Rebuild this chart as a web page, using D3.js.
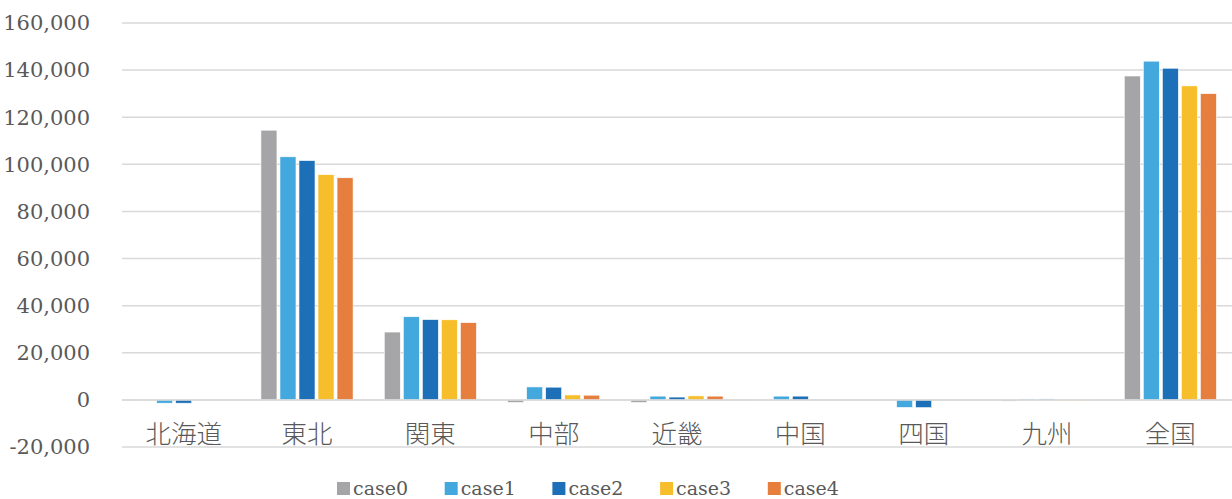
<!DOCTYPE html>
<html>
<head>
<meta charset="utf-8">
<script src="https://cdn.jsdelivr.net/npm/d3@7"></script>
<style>
  body { margin: 0; background: #fff; }
  svg text { fill: #595959; }
  .serif { font-family: "DejaVu Serif", serif; }
</style>
</head>
<body>
<div id="chart"></div>
<script>
// regions on the x axis
var regions = ["北海道", "東北", "関東", "中部", "近畿", "中国", "四国", "九州", "全国"];
var seriesNames = ["case0", "case1", "case2", "case3", "case4"];
var seriesColors = ["#a5a5a7", "#42a8dd", "#1d6fb8", "#f7be2b", "#e67e3e"];

// values per series, same order as regions
var case0 = [-400, 114500, 28800, -1100, -1100, -300, 0, -500, 137500];
var case1 = [-1400, 103200, 35300, 5500, 1600, 1600, -3200, 400, 143800];
var case2 = [-1400, 101600, 34100, 5400, 1200, 1600, -3300, 400, 140800];
var case3 = [0, 95600, 34000, 2100, 1700, 0, 0, -400, 133300];
var case4 = [0, 94300, 32800, 2000, 1600, 0, 0, -400, 130000];
var allSeries = [case0, case1, case2, case3, case4];

var yTicks = [-20000, 0, 20000, 40000, 60000, 80000, 100000, 120000, 140000, 160000];

var width = 1232, height = 499;
var plotLeft = 122, plotRight = 1232, plotTop = 23, plotBottom = 447;

var svg = d3.select("#chart").append("svg")
  .attr("width", width)
  .attr("height", height);

var x0 = d3.scaleBand()
  .domain(regions)
  .range([plotLeft, plotRight])
  .padding(0);

var groupPad = 15.6;
var x1 = d3.scaleBand()
  .domain(seriesNames)
  .range([groupPad, x0.bandwidth() - groupPad])
  .paddingInner(0.158);

var y = d3.scaleLinear()
  .domain([-20000, 160000])
  .range([plotBottom, plotTop]);

// plain hyphen for negatives, like the original
var fmt = function(d) { return (d < 0 ? "-" : "") + d3.format(",")(Math.abs(d)); };

// gridlines
svg.append("g")
  .selectAll("line")
  .data(yTicks)
  .enter().append("line")
  .attr("x1", plotLeft)
  .attr("x2", plotRight)
  .attr("y1", d => y(d))
  .attr("y2", d => y(d))
  .attr("stroke", "#d9d9d9")
  .attr("stroke-width", 1.5);

// y labels
svg.append("g")
  .selectAll("text")
  .data(yTicks)
  .enter().append("text")
  .attr("class", "serif")
  .attr("x", 90)
  .attr("y", d => y(d))
  .attr("dy", "0.35em")
  .attr("text-anchor", "end")
  .style("font-size", "21px")
  .text(d => fmt(d));

// bars
var groups = svg.append("g")
  .selectAll("g")
  .data(regions)
  .enter().append("g")
  .attr("transform", d => "translate(" + x0(d) + ",0)");

groups.selectAll("rect")
  .data((d, i) => seriesNames.map((s, j) => ({ s: s, j: j, v: allSeries[j][i] })))
  .enter().append("rect")
  .attr("x", d => x1(d.s))
  .attr("width", x1.bandwidth())
  .attr("y", d => y(Math.max(0, d.v)))
  .attr("height", d => Math.abs(y(d.v) - y(0)))
  .attr("fill", d => seriesColors[d.j])
  .attr("stroke", "#fff")
  .attr("stroke-width", 0.6);

// zero line on top
svg.append("line")
  .attr("x1", plotLeft)
  .attr("x2", plotRight)
  .attr("y1", y(0))
  .attr("y2", y(0))
  .attr("stroke", "#d9d9d9")
  .attr("stroke-width", 1.5);

// category labels
svg.append("g")
  .selectAll("text")
  .data(regions)
  .enter().append("text")
  .attr("x", d => x0(d) + x0.bandwidth() / 2)
  .attr("y", 434)
  .attr("dy", "0.35em")
  .attr("text-anchor", "middle")
  .style("font-family", "'Noto Sans CJK JP', sans-serif")
  .style("font-size", "25.5px")
  .style("font-weight", 300)
  .text(d => d);

// legend
var legend = svg.append("g")
  .selectAll("g")
  .data(seriesNames)
  .enter().append("g")
  .attr("transform", (d, i) => "translate(" + (337 + i * 107.7) + ",482)");

legend.append("rect")
  .attr("width", 13)
  .attr("height", 13)
  .attr("fill", (d, i) => seriesColors[i]);

legend.append("text")
  .attr("class", "serif")
  .attr("x", 16)
  .attr("y", 13)
  .style("font-size", "19px")
  .text(d => d);
</script>
</body>
</html>
